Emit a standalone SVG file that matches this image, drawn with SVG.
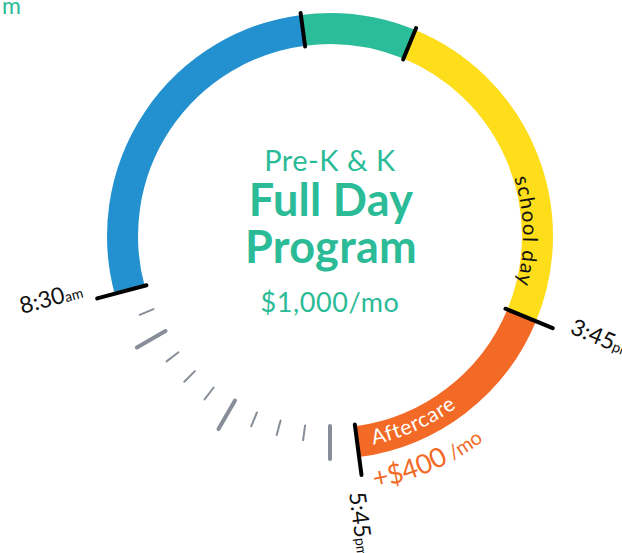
<svg xmlns="http://www.w3.org/2000/svg" width="622" height="553" viewBox="0 0 622 553">
<style>
.t{font-family:Lato,"Open Sans","Liberation Sans",sans-serif}
.teal{fill:#2bbb97}
.orng{fill:#f26a26}
.lbl{fill:#111}
.band{fill:none;stroke-width:31}
.div{stroke:#000;stroke-width:4;stroke-linecap:round}
.lt{stroke:#878e99;stroke-width:4;stroke-linecap:round}
.st{stroke:#878e99;stroke-width:2;stroke-linecap:round}
</style>
<defs>
<path id="pSchool" d="M514.1,178 A193,193 0 0 1 504.9,317.6"/>
<path id="pAfter" d="M373.2,444.6 A213,213 0 0 0 523,326"/>
<path id="pPrice" d="M374.9,488 A256,256 0 0 0 551.7,364"/>
</defs>
<text class="t teal" x="2" y="14" font-size="23">m</text>
<g id="ring">
<g id="morning"><path class="band" stroke="#2391d0" d="M129.6,289.7 A207.5,207.5 0 0 1 302.9,30.3"/></g>
<g id="lunch"><path class="band" stroke="#2bbc99" d="M302.9,30.3 A207.5,207.5 0 0 1 409.4,44.3"/></g>
<g id="schoolday"><path class="band" stroke="#fedd1a" d="M409.4,44.3 A207.5,207.5 0 0 1 521.7,315.4"/>
<text class="t lbl" font-size="20.5" letter-spacing="1.3"><textPath href="#pSchool">school day</textPath></text></g>
<g id="aftercare"><path class="band" stroke="#f26a26" d="M521.7,315.4 A207.5,207.5 0 0 1 357.1,441.7"/>
<text class="t" fill="#fff" font-size="21" letter-spacing="0.8"><textPath href="#pAfter">Aftercare</textPath></text>
<text class="t orng"><textPath href="#pPrice"><tspan font-size="27">+$400</tspan><tspan font-size="20"> /mo</tspan></textPath></text></g>
</g>
<g id="connectors">
<line class="div" x1="146.5" y1="285.2" x2="97.2" y2="298.4"/>
<line class="div" x1="505.5" y1="308.7" x2="552.7" y2="328.2"/>
<line class="div" x1="354.8" y1="424.4" x2="361.5" y2="474.9"/>
<line class="div" x1="305.1" y1="46.6" x2="300.6" y2="12.9"/>
<line class="div" x1="403.1" y1="59.5" x2="416.1" y2="28.1"/>
</g>
<g id="ticks">
<line class="lt" x1="330" y1="426" x2="330" y2="459"/>
<line class="st" x1="305.1" y1="425.4" x2="303.1" y2="440.2"/>
<line class="st" x1="280.6" y1="420.5" x2="276.7" y2="435"/>
<line class="st" x1="256.9" y1="412.5" x2="251.2" y2="426.3"/>
<line class="lt" x1="235" y1="400.5" x2="218.5" y2="429.1"/>
<line class="st" x1="213.7" y1="387.5" x2="204.6" y2="399.4"/>
<line class="st" x1="194.9" y1="371.1" x2="184.3" y2="381.7"/>
<line class="st" x1="178.5" y1="352.3" x2="166.6" y2="361.4"/>
<line class="lt" x1="165.5" y1="331" x2="136.9" y2="347.5"/>
<line class="st" x1="153.5" y1="309.1" x2="139.7" y2="314.8"/>
</g>
<g id="times">
<text class="t lbl" transform="translate(22,314) rotate(-15)"><tspan font-size="23">8:30</tspan><tspan font-size="14">am</tspan></text>
<text class="t lbl" transform="translate(569,333) rotate(22.5)"><tspan font-size="23">3:45</tspan><tspan font-size="14">pm</tspan></text>
<text class="t lbl" transform="translate(349,493) rotate(82.5)"><tspan font-size="23">5:45</tspan><tspan font-size="14">pm</tspan></text>
</g>
<g id="center" text-anchor="middle">
<text class="t teal" x="330" y="171" font-size="29" letter-spacing="0.5">Pre-K &amp; K</text>
<text class="t teal" x="331" y="216" font-size="45" font-weight="bold" letter-spacing="0.3">Full Day</text>
<text class="t teal" x="331" y="263" font-size="45" font-weight="bold" letter-spacing="0.3">Program</text>
<text class="t teal" x="330" y="312" font-size="27" letter-spacing="0.6">$1,000/mo</text>
</g>
</svg>
